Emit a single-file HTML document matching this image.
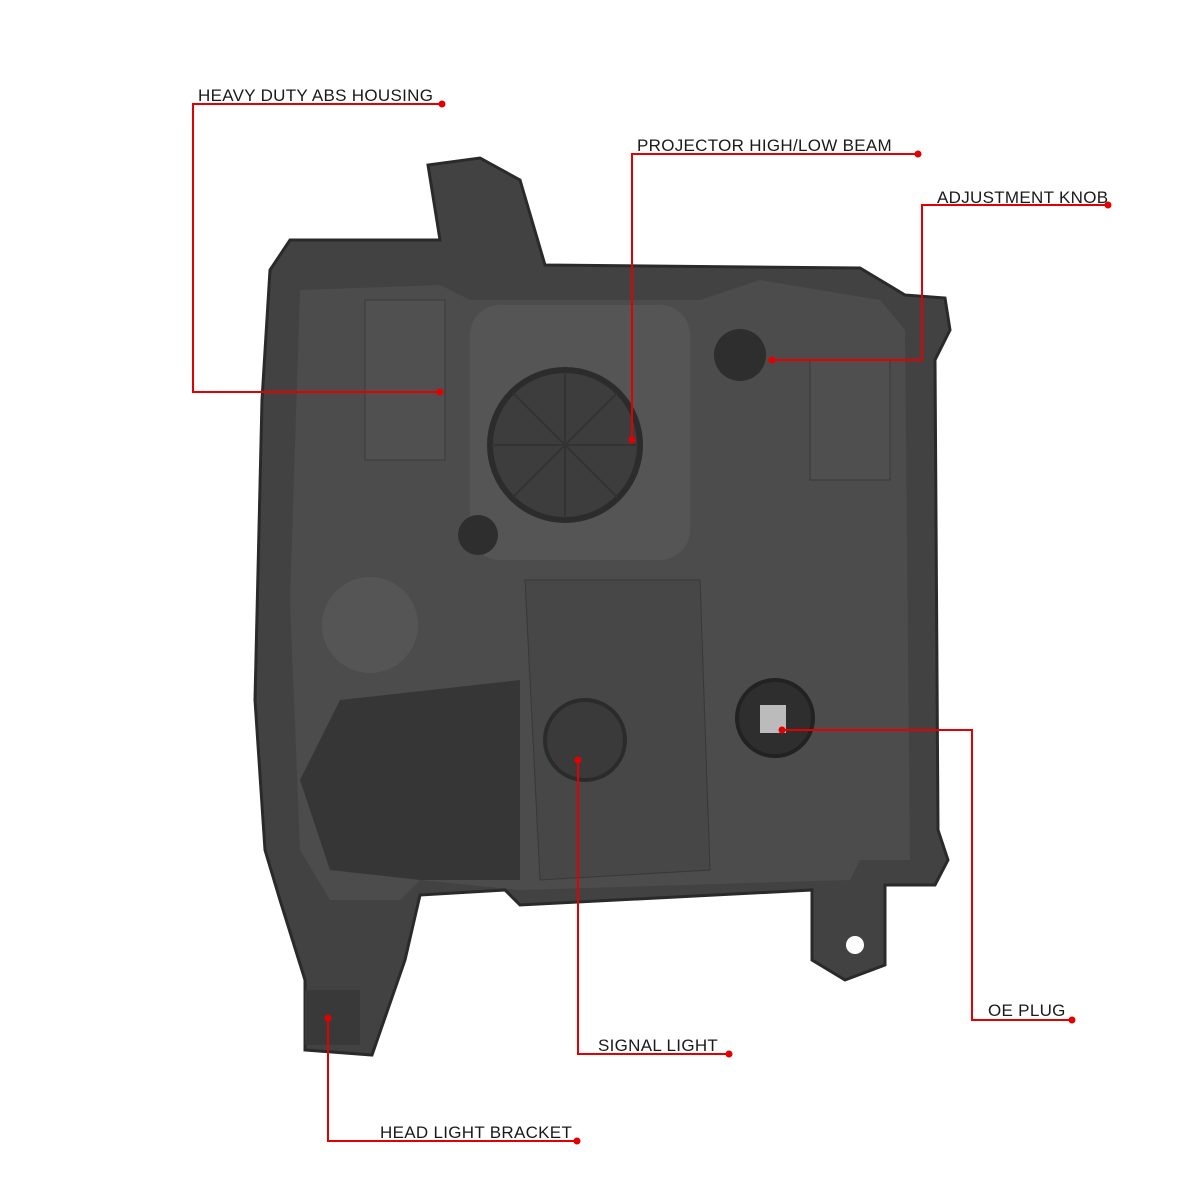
<!DOCTYPE html>
<html><head><meta charset="utf-8"><style>
html,body{margin:0;padding:0;background:#fff;width:1200px;height:1200px;overflow:hidden}
text{font-family:"Liberation Sans",sans-serif;font-size:17px;fill:#1a1a1a;letter-spacing:0.3px}
</style></head><body>
<svg width="1200" height="1200" viewBox="0 0 1200 1200" xmlns="http://www.w3.org/2000/svg">
<path d="M290 240 L440 240 L428 165 L480 158 L520 180 L545 265 L860 268 L905 295 L945 298 L950 330 L935 360 L938 830 L948 860 L935 885 L885 885 L885 965 L845 980 L812 960 L812 890 L520 905 L505 890 L420 895 L405 960 L372 1055 L305 1050 L305 980 L280 900 L265 850 L255 700 L262 400 L270 270 Z" fill="#424242" stroke="#2a2a2a" stroke-width="3"/>
<path d="M300 290 L440 285 L470 300 L700 300 L760 280 L880 300 L905 330 L910 860 L860 860 L850 880 L520 890 L420 880 L400 900 L330 900 L300 850 L290 600 Z" fill="#4c4c4c"/>
<path d="M340 700 L520 680 L520 880 L420 880 L330 870 L300 780 Z" fill="#363636"/>
<rect x="470" y="305" width="220" height="255" rx="30" fill="#555"/>
<rect x="365" y="300" width="80" height="160" fill="#505050" stroke="#3a3a3a"/>
<circle cx="565" cy="445" r="75" fill="#3d3d3d" stroke="#2c2c2c" stroke-width="6"/>
<path d="M565 372 L565 518 M492 445 L638 445 M513 393 L617 497 M513 497 L617 393" stroke="#333" stroke-width="2"/>
<path d="M525 580 L700 580 L710 870 L540 880 Z" fill="#474747" stroke="#383838"/>
<circle cx="370" cy="625" r="48" fill="#555"/>
<circle cx="585" cy="740" r="40" fill="#3a3a3a" stroke="#2b2b2b" stroke-width="4"/>
<circle cx="775" cy="718" r="38" fill="#2e2e2e" stroke="#222" stroke-width="4"/>
<rect x="760" y="705" width="26" height="28" fill="#bbb"/>
<circle cx="740" cy="355" r="26" fill="#2e2e2e"/>
<circle cx="478" cy="535" r="20" fill="#2e2e2e"/>
<rect x="810" y="360" width="80" height="120" fill="#4f4f4f" stroke="#3a3a3a"/>
<rect x="305" y="990" width="55" height="55" fill="#393939"/>
<circle cx="855" cy="945" r="9" fill="#fff"/>
<g stroke="#e30000" stroke-width="2" fill="none">
<path d="M442 104 H193 V392 H440"/>
<path d="M918 154 H632 V440"/>
<path d="M1108 205 H922 V360 H772"/>
<path d="M1072 1020 H972 V730 H782"/>
<path d="M729 1054 H578 V760"/>
<path d="M577 1141 H328 V1018"/>
</g>
<g fill="#e30000">
<circle cx="442" cy="104" r="3.5"/><circle cx="440" cy="392" r="3.5"/>
<circle cx="918" cy="154" r="3.5"/><circle cx="632" cy="440" r="3.5"/>
<circle cx="1108" cy="205" r="3.5"/><circle cx="772" cy="360" r="3.5"/>
<circle cx="1072" cy="1020" r="3.5"/><circle cx="782" cy="730" r="3.5"/>
<circle cx="729" cy="1054" r="3.5"/><circle cx="578" cy="760" r="3.5"/>
<circle cx="577" cy="1141" r="3.5"/><circle cx="328" cy="1018" r="3.5"/>
</g>
<text x="198" y="101">HEAVY DUTY ABS HOUSING</text>
<text x="637" y="151">PROJECTOR HIGH/LOW BEAM</text>
<text x="937" y="203">ADJUSTMENT KNOB</text>
<text x="988" y="1016">OE PLUG</text>
<text x="598" y="1051">SIGNAL LIGHT</text>
<text x="380" y="1138">HEAD LIGHT BRACKET</text>
</svg>
</body></html>
